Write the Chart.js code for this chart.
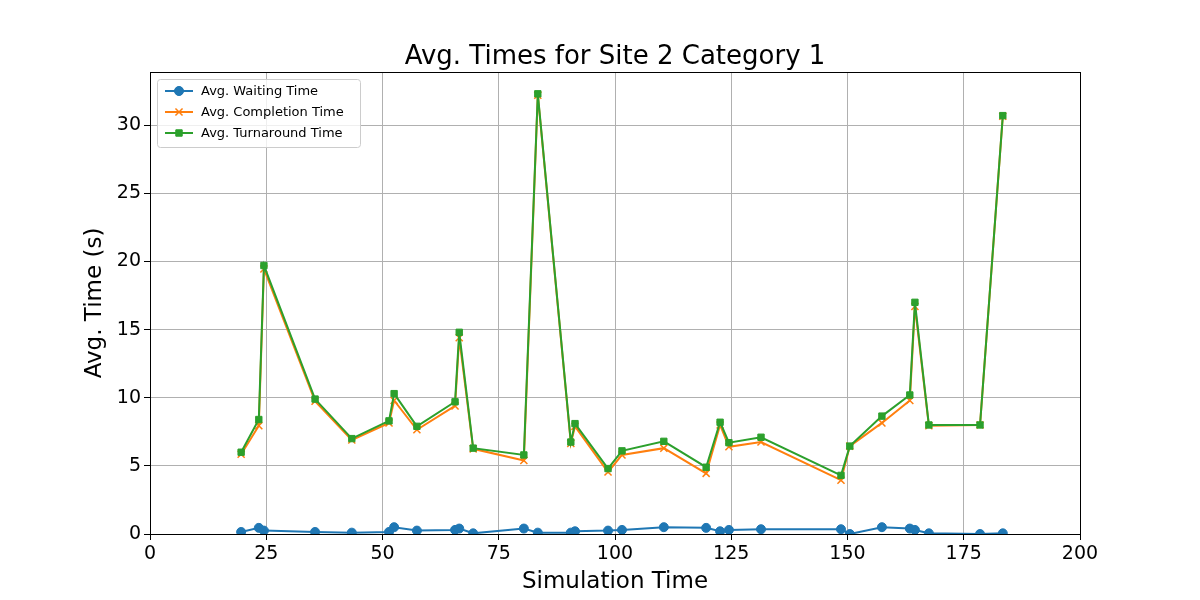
<!DOCTYPE html>
<html>
<head>
<script src="https://cdn.jsdelivr.net/npm/chart.js@4/dist/chart.umd.min.js"></script>
<style>
  body { margin: 0; background: #fff; }
  #wrap { width: 1200px; height: 600px; }
</style>
</head>
<body>
<div id="wrap"><canvas id="c"></canvas></div>
<script>
const simTimes = [19.6, 23.4, 24.5, 35.5, 43.4, 51.4, 52.5, 57.4, 65.6, 66.5, 69.5, 80.4, 83.4, 90.5, 91.4,
  98.5, 101.5, 110.5, 119.6, 122.6, 124.5, 131.4, 148.6, 150.5, 157.4, 163.4, 164.5, 167.5, 178.5, 183.4];
const waiting = [0.15, 0.45, 0.25, 0.15, 0.1, 0.15, 0.5, 0.25, 0.3, 0.4, 0.05, 0.4, 0.1, 0.1, 0.2,
  0.25, 0.3, 0.5, 0.45, 0.2, 0.3, 0.35, 0.35, 0.0, 0.5, 0.4, 0.3, 0.05, 0.0, 0.05];
const completion = [5.85, 7.95, 19.45, 9.75, 6.9, 8.15, 9.8, 7.65, 9.4, 14.4, 6.25, 5.4, 32.2, 6.65, 7.9,
  4.55, 5.8, 6.3, 4.45, 8.0, 6.4, 6.75, 3.95, 6.45, 8.15, 9.8, 16.7, 7.95, 8.0, 30.65];
const turnaround = [6.0, 8.4, 19.7, 9.9, 7.0, 8.3, 10.3, 7.9, 9.7, 14.8, 6.3, 5.8, 32.3, 6.75, 8.1,
  4.8, 6.1, 6.8, 4.9, 8.2, 6.7, 7.1, 4.3, 6.45, 8.65, 10.2, 17.0, 8.0, 8.0, 30.7];

const pts = ys => simTimes.map((x, i) => ({ x, y: ys[i] }));
const font = 'DejaVu Sans';

const series = [
  { label: 'Avg. Waiting Time', data: waiting, color: '#1f77b4', style: 'circle', r: 4.5, order: 3 },
  { label: 'Avg. Completion Time', data: completion, color: '#ff7f0e', style: 'crossRot', r: 5, order: 2 },
  { label: 'Avg. Turnaround Time', data: turnaround, color: '#2ca02c', style: 'rect', r: 4.5, order: 1 }
];

const decor = {
  id: 'decor',
  afterDraw(chart) {
    const ctx = chart.ctx, a = chart.chartArea;
    ctx.save();
    ctx.strokeStyle = '#000'; ctx.lineWidth = 1;
    ctx.strokeRect(a.left + 0.5, a.top + 0.5, a.right - a.left, a.bottom - a.top);
    ctx.fillStyle = '#000';
    ctx.font = `26px "${font}"`;
    ctx.textAlign = 'center';
    ctx.textBaseline = 'alphabetic';
    ctx.fillText('Avg. Times for Site 2 Category 1', (a.left + a.right) / 2, 64);
    ctx.save();
    ctx.translate(101, (a.top + a.bottom) / 2);
    ctx.rotate(-Math.PI / 2);
    ctx.font = `23px "${font}"`;
    ctx.fillText('Avg. Time (s)', 0, 0);
    ctx.restore();
    // legend box
    const lx = a.left + 7, ly = a.top + 7, lw = 203, lh = 68;
    ctx.fillStyle = 'rgba(255,255,255,0.8)';
    ctx.strokeStyle = '#ccc';
    ctx.beginPath();
    ctx.roundRect(lx + 0.5, ly + 0.5, lw, lh, 3);
    ctx.fill(); ctx.stroke();
    ctx.font = `13px "${font}"`;
    ctx.textAlign = 'left';
    ctx.textBaseline = 'middle';
    series.forEach((s, i) => {
      const y = ly + 12 + i * 21;
      ctx.strokeStyle = s.color; ctx.fillStyle = s.color; ctx.lineWidth = 2;
      ctx.beginPath(); ctx.moveTo(lx + 8, y); ctx.lineTo(lx + 36, y); ctx.stroke();
      ctx.lineWidth = s.style === 'crossRot' ? 1.5 : 1;
      Chart.helpers.drawPoint(ctx, { pointStyle: s.style, radius: s.r, borderWidth: ctx.lineWidth }, lx + 22, y);
      ctx.fill(); 
      ctx.fillStyle = '#000';
      ctx.fillText(s.label, lx + 44, y + 1);
    });
    ctx.restore();
  }
};

new Chart(document.getElementById('c'), {
  type: 'line',
  data: {
    datasets: series.map(s => ({
      label: s.label,
      data: pts(s.data),
      order: s.order,
      borderColor: s.color,
      backgroundColor: s.color,
      borderWidth: 2,
      pointStyle: s.style,
      pointRadius: s.r,
      pointBorderWidth: s.style === 'crossRot' ? 1.5 : 1,
      tension: 0
    }))
  },
  options: {
    responsive: true,
    maintainAspectRatio: false,
    animation: false,
    layout: { padding: { top: 72, right: 120, left: 0, bottom: 0 } },
    plugins: { legend: { display: false }, tooltip: { enabled: false } },
    scales: {
      x: {
        type: 'linear', min: 0, max: 200,
        ticks: { stepSize: 25, color: '#000', font: { family: font, size: 19 } },
        grid: { color: '#b0b0b0', tickColor: '#000', tickLength: 6 },
        border: { color: '#000' },
        title: { display: true, text: 'Simulation Time', color: '#000', font: { family: font, size: 23 }, padding: { top: 0 } },
        afterFit: s => { s.height = 66; }
      },
      y: {
        min: 0, max: 33.9,
        ticks: { color: '#000', font: { family: font, size: 19 } },
        grid: { color: '#b0b0b0', tickColor: '#000', tickLength: 6 },
        border: { color: '#000' },
        afterFit: s => { s.width = 150; },
        afterBuildTicks: s => { s.ticks = [0, 5, 10, 15, 20, 25, 30].map(v => ({ value: v })); }
      }
    }
  },
  plugins: [decor]
});
</script>
</body>
</html>
